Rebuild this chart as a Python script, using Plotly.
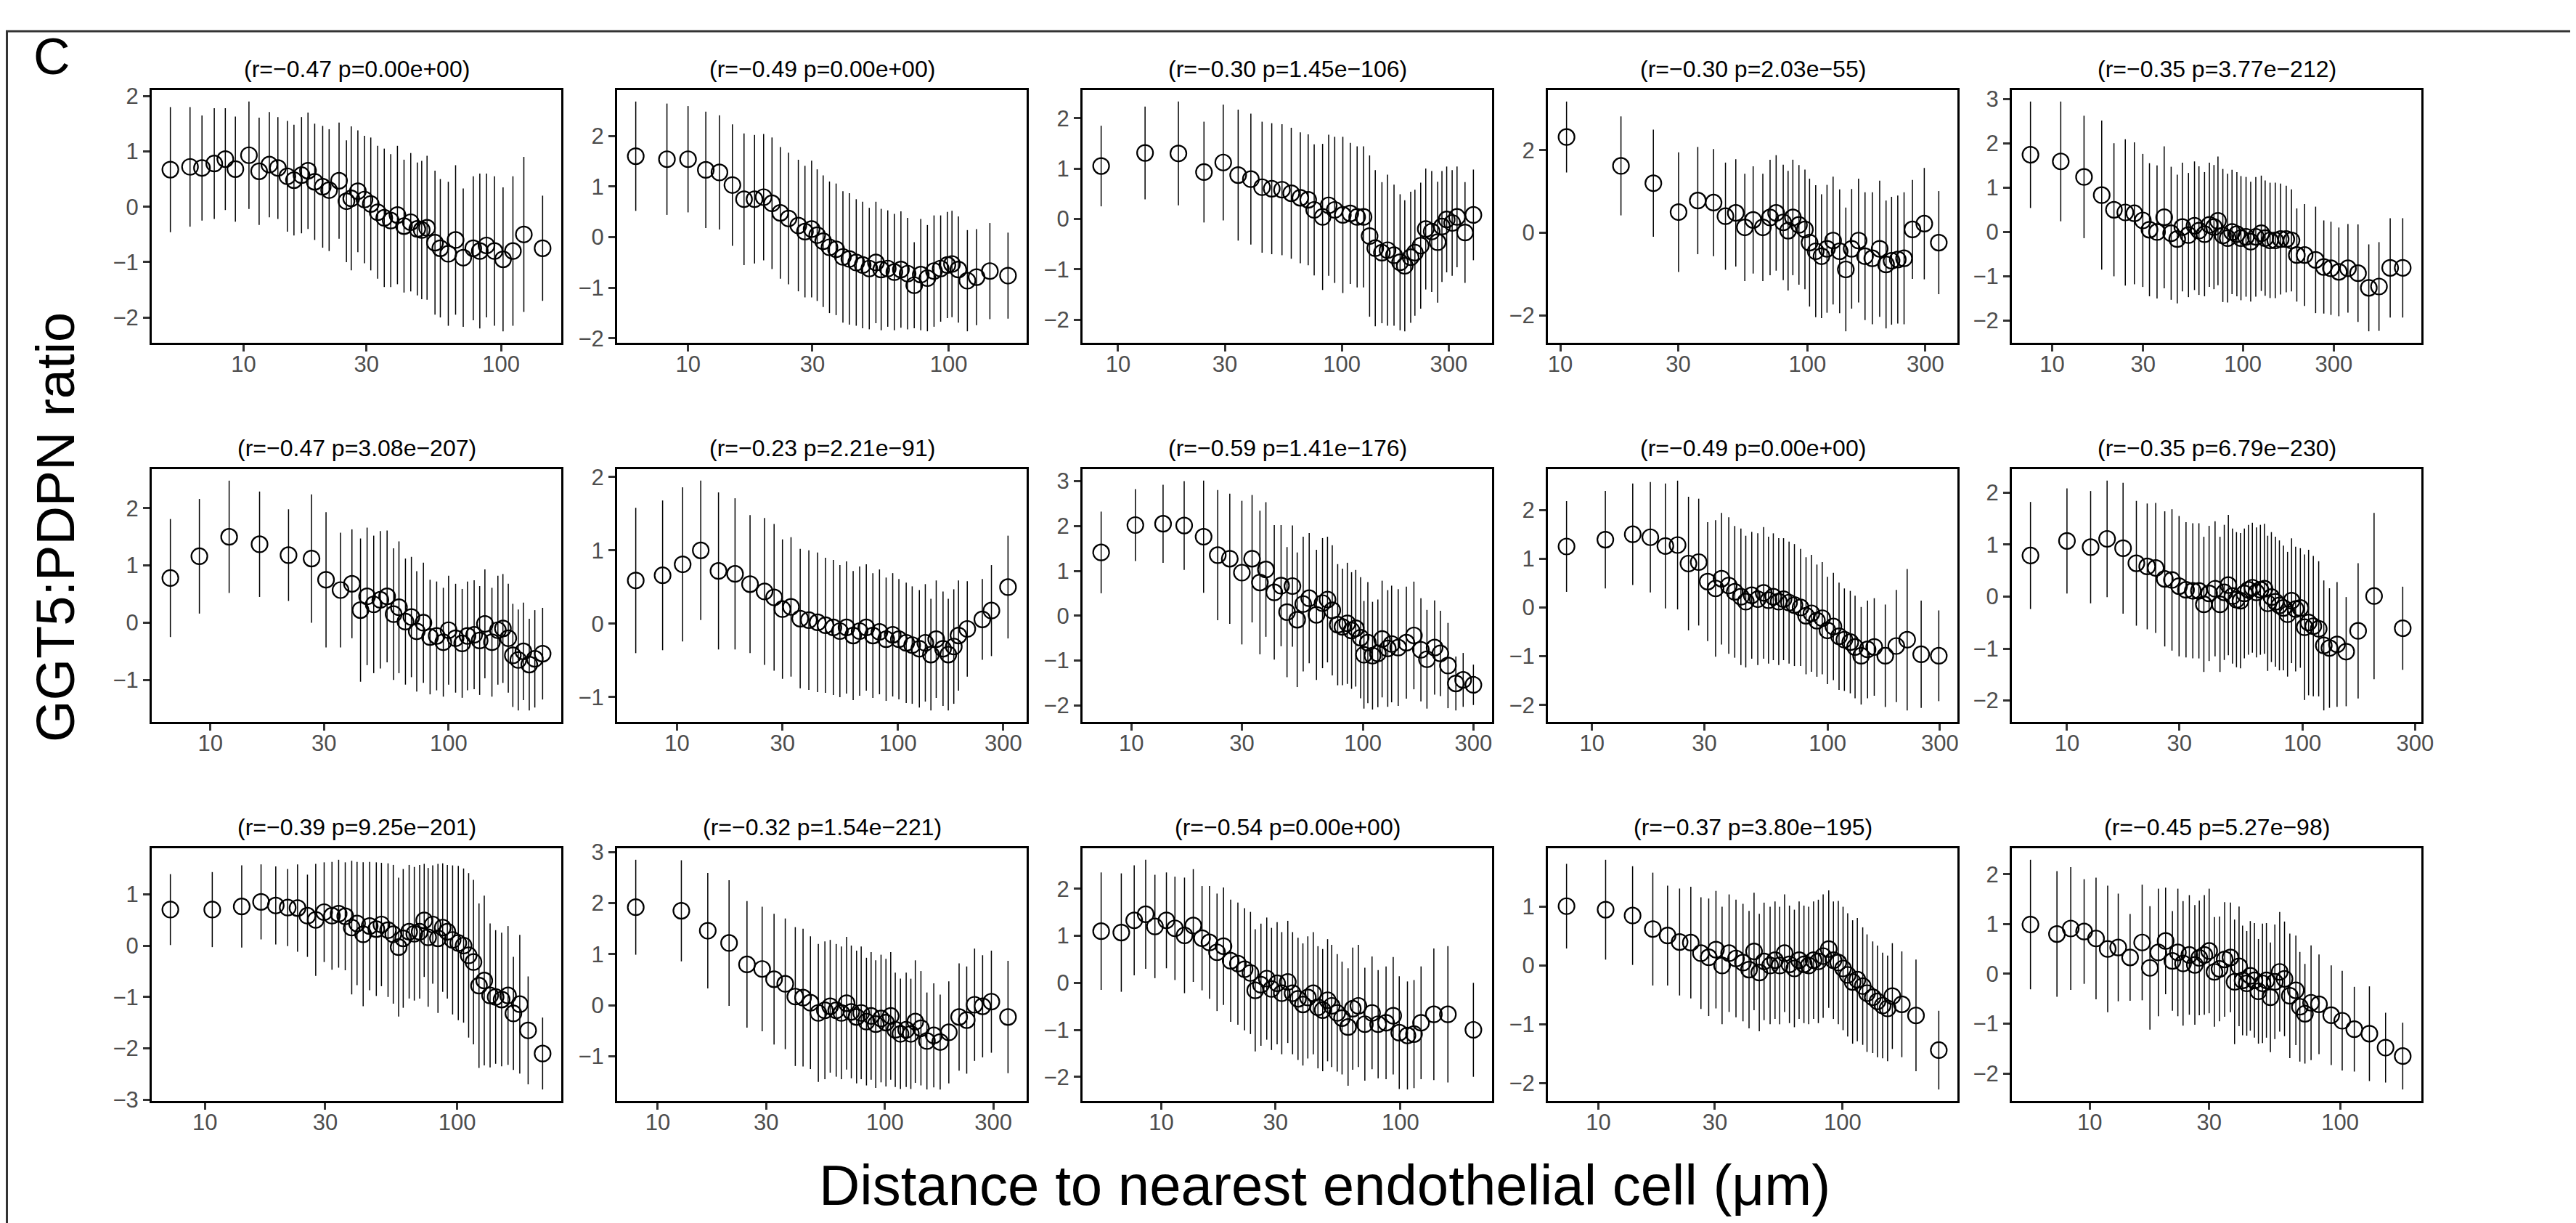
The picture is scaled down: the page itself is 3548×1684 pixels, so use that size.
import numpy as np
import plotly.graph_objects as go

# ---- data: distance (um), mean ratio, sd for each of the 15 panels ----
P1_X = [5.2, 6.2, 6.9, 7.7, 8.5, 9.3, 10.5, 11.5, 12.6, 13.6, 14.8, 15.7, 16.8, 17.8, 18.9, 20.3, 21.5, 23.5, 25.1, 26.2,
        27.8, 29.5, 31.2, 33.2, 35.2, 37.3, 39.6, 42.0, 44.6, 47.3, 49.2, 51.6, 55.4, 58.1, 62.4, 66.6, 71.3, 78.0, 82.7, 87.8,
        94.3, 101.8, 111.2, 122.6, 145]
P1_Y = [0.67, 0.72, 0.70, 0.78, 0.86, 0.68, 0.93, 0.64, 0.76, 0.70, 0.55, 0.48, 0.57, 0.65, 0.45, 0.36, 0.30, 0.47, 0.10, 0.15,
        0.28, 0.13, 0.05, -0.10, -0.20, -0.25, -0.15, -0.35, -0.28, -0.40, -0.42, -0.38, -0.65, -0.75, -0.85, -0.60, -0.92, -0.75, -0.80, -0.70,
        -0.80, -0.95, -0.80, -0.50, -0.75]
P1_SD = [1.13, 1.08, 0.95, 1.0, 0.92, 0.95, 0.97, 0.97, 0.95, 0.92, 1.0, 1.0, 1.05, 1.05, 1.05, 1.1, 1.1, 1.05, 1.1, 1.3,
         1.1, 1.15, 1.2, 1.2, 1.25, 1.2, 1.25, 1.2, 1.25, 1.2, 1.25, 1.3, 1.3, 1.25, 1.3, 1.35, 1.25, 1.3, 1.4, 1.3,
         1.35, 1.3, 1.35, 1.4, 0.95]

P2_X = [6.3, 8.3, 10, 11.7, 13.2, 14.8, 16.4, 18, 19.5, 21, 22.6, 24.3, 26.5, 28.1, 29.8, 31.3, 33, 34.9, 37, 39.3,
        41.6, 44.2, 46.8, 49.6, 52.6, 55.1, 58.4, 61.9, 65.6, 69.6, 73.8, 78.2, 82.9, 87.9, 93.2, 98.9, 103, 109, 118, 128,
        144, 169]
P2_Y = [1.60, 1.54, 1.54, 1.33, 1.28, 1.03, 0.75, 0.75, 0.79, 0.67, 0.48, 0.37, 0.23, 0.11, 0.16, 0.04, -0.08, -0.20, -0.24, -0.39,
        -0.43, -0.50, -0.55, -0.62, -0.50, -0.64, -0.62, -0.69, -0.64, -0.72, -0.95, -0.74, -0.81, -0.67, -0.62, -0.55, -0.53, -0.64, -0.86, -0.79,
        -0.67, -0.76]
P2_SD = [1.08, 1.1, 1.05, 1.15, 1.13, 1.2, 1.3, 1.27, 1.25, 1.3, 1.3, 1.3, 1.3, 1.3, 1.35, 1.3, 1.3, 1.3, 1.3, 1.3,
         1.3, 1.25, 1.25, 1.2, 1.2, 1.2, 1.15, 1.15, 1.15, 1.1, 0.85, 1.1, 1.05, 1.1, 1.05, 1.05, 1.05, 1.05, 1.0, 0.95,
         0.95, 0.85]

P3_X = [8.4, 13.2, 18.6, 24.2, 29.5, 34.4, 39.2, 44, 48.6, 54, 59.4, 65.2, 70.7, 75.2, 82, 87.3, 92.9, 101, 109, 117,
        125, 133, 141, 151, 160, 171, 182, 191, 203, 212, 225, 237, 252, 268, 280, 294, 311, 327, 355, 387]
P3_Y = [1.05, 1.31, 1.30, 0.93, 1.12, 0.87, 0.79, 0.63, 0.60, 0.58, 0.51, 0.42, 0.38, 0.18, 0.04, 0.27, 0.18, 0.08, 0.11, 0.04,
        0.04, -0.34, -0.58, -0.67, -0.62, -0.72, -0.86, -0.93, -0.76, -0.67, -0.53, -0.20, -0.25, -0.46, -0.15, -0.01, -0.08, 0.04, -0.27, 0.08]
P3_SD = [0.8, 0.92, 1.03, 1.0, 1.15, 1.3, 1.3, 1.3, 1.3, 1.3, 1.3, 1.3, 1.3, 1.3, 1.45, 1.4, 1.45, 1.55, 1.4, 1.4,
         1.4, 1.6, 1.55, 1.4, 1.5, 1.4, 1.35, 1.3, 1.3, 1.25, 1.25, 1.2, 1.2, 1.2, 1.1, 1.05, 1.05, 1.0, 1.0, 0.9]

P4_X = [10.6, 17.6, 23.8, 30.1, 36, 41.7, 46.6, 51.3, 55.8, 60.3, 66, 70.6, 74.7, 79.8, 83.5, 87.3, 92.4, 97.7, 102, 108,
        114, 120, 127, 135, 143, 151, 161, 171, 183, 196, 208, 219, 232, 246, 266, 297, 340]
P4_Y = [2.32, 1.62, 1.2, 0.5, 0.78, 0.73, 0.4, 0.48, 0.13, 0.31, 0.13, 0.37, 0.48, 0.25, 0.05, 0.37, 0.19, 0.08, -0.24, -0.45,
        -0.57, -0.39, -0.19, -0.45, -0.89, -0.39, -0.19, -0.57, -0.62, -0.39, -0.77, -0.68, -0.65, -0.62, 0.08, 0.22, -0.24]
P4_SD = [0.86, 1.2, 1.3, 1.45, 1.3, 1.3, 1.3, 1.3, 1.3, 1.3, 1.3, 1.4, 1.4, 1.4, 1.45, 1.4, 1.45, 1.45, 1.55, 1.6,
         1.5, 1.55, 1.55, 1.5, 1.5, 1.45, 1.5, 1.55, 1.6, 1.65, 1.55, 1.55, 1.55, 1.6, 1.2, 1.35, 1.25]

P5_X = [7.7, 11.1, 14.7, 18.2, 21.1, 24.2, 27, 29.9, 32.4, 35.5, 38.7, 42.1, 45.3, 48.2, 51.9, 55.8, 58.9, 63, 66.8, 70.6,
        74.1, 78.6, 83.3, 87.8, 93.1, 97.8, 104, 110, 117, 125, 131, 139, 148, 158, 169, 180, 192, 211, 241, 266,
        290, 319, 356, 402, 458, 518, 593, 690]
P5_Y = [1.74, 1.59, 1.24, 0.83, 0.5, 0.44, 0.42, 0.26, 0.05, 0.0, 0.33, -0.03, -0.16, 0.11, -0.07, 0.14, 0.03, -0.05, 0.16, 0.11,
        0.25, -0.08, -0.14, 0.0, -0.05, -0.14, -0.11, -0.22, -0.11, -0.03, -0.14, -0.19, -0.19, -0.16, -0.16, -0.19, -0.52, -0.52, -0.63, -0.79,
        -0.82, -0.9, -0.82, -0.93, -1.26, -1.23, -0.81, -0.81]
P5_SD = [1.2, 1.35, 1.38, 1.68, 1.5, 1.65, 1.6, 1.5, 1.5, 1.5, 1.6, 1.5, 1.45, 1.45, 1.4, 1.45, 1.45, 1.4, 1.4, 1.4,
         1.45, 1.5, 1.45, 1.4, 1.4, 1.4, 1.35, 1.35, 1.35, 1.3, 1.3, 1.3, 1.3, 1.25, 1.2, 1.15, 1.05, 1.15, 1.2, 1.05,
         1.05, 1.0, 1.0, 1.1, 0.98, 1.0, 1.12, 1.12]

P6_X = [6.8, 9.0, 12.0, 16.1, 21.3, 26.6, 30.6, 35.2, 39.3, 42.7, 45.5, 48.5, 51.7, 55.2, 58.8, 61.9, 65.9, 69.8, 73.5, 78.4,
        83.6, 89.1, 95, 100, 107, 114, 120, 128, 135, 142, 152, 161, 169, 178, 186, 196, 206, 218, 230, 248]
P6_Y = [0.78, 1.16, 1.5, 1.37, 1.18, 1.12, 0.75, 0.57, 0.68, 0.22, 0.46, 0.32, 0.40, 0.46, 0.15, 0.27, 0.02, 0.10, -0.15, 0.0,
        -0.25, -0.23, -0.34, -0.13, -0.27, -0.36, -0.23, -0.21, -0.31, -0.02, -0.34, -0.13, -0.10, -0.27, -0.57, -0.65, -0.50, -0.73, -0.63, -0.54]
P6_SD = [1.03, 1.0, 0.98, 0.92, 0.8, 1.12, 1.18, 1.0, 0.95, 1.25, 1.2, 1.2, 1.2, 1.15, 1.15, 1.15, 1.1, 1.05, 1.05, 1.05,
         1.0, 0.95, 0.95, 0.95, 0.95, 0.95, 0.95, 0.95, 0.95, 0.95, 0.95, 0.95, 0.95, 0.95, 0.9, 0.88, 0.85, 0.8, 0.85, 0.8]

P7_X = [6.5, 8.6, 10.6, 12.8, 15.4, 18.3, 21.4, 24.9, 27.5, 30.0, 32.8, 36.1, 39.5, 43.3, 47, 51, 54.6, 58.5, 62.7, 67.1,
        71.9, 77, 82.5, 88.4, 94.7, 101, 109, 116, 125, 133, 141, 149, 160, 169, 179, 188, 206, 241, 265, 315]
P7_Y = [0.59, 0.66, 0.81, 1.0, 0.72, 0.68, 0.54, 0.44, 0.36, 0.2, 0.23, 0.07, 0.05, 0.02, -0.02, -0.05, -0.1, -0.05, -0.16, -0.1,
        -0.05, -0.16, -0.11, -0.21, -0.15, -0.21, -0.26, -0.29, -0.34, -0.26, -0.42, -0.21, -0.34, -0.42, -0.31, -0.16, -0.07, 0.06, 0.18, 0.5]
P7_SD = [0.99, 1.02, 1.05, 0.95, 1.07, 1.03, 0.94, 1.0, 1.0, 0.95, 0.95, 0.95, 0.95, 0.95, 0.92, 0.92, 0.9, 0.9, 0.88, 0.88,
         0.86, 0.85, 0.85, 0.84, 0.84, 0.82, 0.82, 0.8, 0.8, 0.8, 0.76, 0.8, 0.78, 0.76, 0.78, 0.75, 0.65, 0.55, 0.62, 0.7]

P8_X = [7.4, 10.4, 13.7, 16.9, 20.5, 23.6, 26.6, 30.0, 33.2, 35.9, 38.1, 41.4, 44.3, 47, 49.6, 52, 55.2, 58.6, 63, 66.9,
        70.3, 73.7, 77.8, 81.6, 85.6, 89.3, 93.1, 97.7, 101, 105, 110, 116, 121, 128, 133, 142, 154, 166, 178, 189,
        204, 216, 233, 252, 271, 300]
P8_Y = [1.41, 2.02, 2.05, 2.01, 1.76, 1.35, 1.27, 0.96, 1.27, 0.74, 1.03, 0.52, 0.67, 0.08, 0.66, -0.09, 0.26, 0.39, 0.02, 0.28,
        0.36, 0.12, -0.2, -0.25, -0.17, -0.33, -0.28, -0.49, -0.87, -0.6, -0.89, -0.84, -0.52, -0.73, -0.63, -0.71, -0.6, -0.44, -0.76, -0.97,
        -0.71, -0.84, -1.11, -1.51, -1.43, -1.54]
P8_SD = [0.91, 0.8, 0.87, 0.99, 1.25, 1.45, 1.45, 1.6, 1.42, 1.6, 1.5, 1.5, 1.35, 1.45, 1.35, 1.5, 1.5, 1.45, 1.45, 1.45,
         1.4, 1.45, 1.35, 1.3, 1.35, 1.3, 1.3, 1.35, 1.2, 1.35, 1.2, 1.2, 1.3, 1.3, 1.3, 1.3, 1.25, 1.2, 1.15, 1.1,
         1.05, 0.95, 0.95, 0.6, 0.6, 0.45]

P9_X = [7.8, 11.4, 14.9, 17.7, 20.5, 23.1, 25.7, 28.4, 31, 33.5, 35.5, 38.1, 40.4, 42.9, 45, 47.7, 50.6, 53.6, 56.2, 58.9,
        62.1, 65.1, 68.7, 72.4, 76.9, 81.1, 85.5, 90.2, 95, 100, 106, 112, 118, 125, 131, 139, 148, 158, 176, 196,
        218, 250, 297]
P9_Y = [1.25, 1.39, 1.5, 1.44, 1.26, 1.28, 0.9, 0.93, 0.53, 0.39, 0.59, 0.45, 0.32, 0.22, 0.12, 0.25, 0.17, 0.3, 0.15, 0.22,
        0.12, 0.17, 0.1, 0.05, 0.0, -0.17, -0.12, -0.27, -0.22, -0.47, -0.39, -0.59, -0.66, -0.71, -0.81, -0.99, -0.86, -0.81, -0.99, -0.79,
        -0.66, -0.96, -0.99]
P9_SD = [0.93, 1.0, 1.04, 1.13, 1.28, 1.32, 1.37, 1.3, 1.22, 1.4, 1.35, 1.4, 1.35, 1.4, 1.35, 1.3, 1.35, 1.35, 1.3, 1.3,
         1.3, 1.25, 1.25, 1.25, 1.2, 1.2, 1.2, 1.15, 1.15, 1.1, 1.1, 1.1, 1.05, 1.05, 1.05, 1.0, 1.0, 1.0, 1.05, 1.15,
         1.45, 1.1, 0.93]

P10_X = [7.0, 10.0, 12.6, 14.8, 17.3, 19.7, 21.9, 23.8, 26, 27.9, 29.9, 32, 34.2, 36.3, 38.1, 40.1, 42.5, 44.6, 46.5, 48.4,
         50.4, 52.4, 54.5, 56.6, 58.9, 61.2, 63.7, 66.2, 68.9, 71.1, 73.7, 76.7, 79.7, 82.9, 86.3, 89.8, 93.4, 97.8, 102, 106,
         111, 117, 123, 130, 140, 153, 172, 201, 266]
P10_Y = [0.79, 1.07, 0.95, 1.11, 0.93, 0.64, 0.58, 0.55, 0.34, 0.32, 0.2, 0.13, 0.11, 0.11, -0.15, 0.06, 0.15, -0.15, 0.08, 0.22,
         0.01, -0.06, -0.08, 0.06, 0.13, 0.17, 0.08, 0.13, 0.15, -0.13, -0.01, -0.1, -0.17, -0.22, -0.34, -0.08, -0.24, -0.22, -0.59, -0.5,
         -0.57, -0.62, -0.94, -0.99, -0.92, -1.06, -0.66, 0.01, -0.61]
P10_SD = [1.03, 1.01, 1.08, 1.12, 1.26, 1.2, 1.21, 1.25, 1.3, 1.36, 1.35, 1.3, 1.3, 1.3, 1.3, 1.3, 1.3, 1.3, 1.3, 1.35,
          1.3, 1.3, 1.3, 1.25, 1.25, 1.25, 1.25, 1.25, 1.25, 1.3, 1.25, 1.25, 1.25, 1.2, 1.2, 1.2, 1.2, 1.15, 1.4, 1.4,
          1.35, 1.3, 1.25, 1.15, 1.2, 1.05, 1.3, 1.6, 0.8]

P11_X = [7.3, 10.7, 14.0, 16.7, 19.1, 21.3, 23.3, 25.5, 27.5, 29.7, 31.9, 33.9, 36, 38.2, 40.1, 42.4, 45, 47.8, 50.1, 53.2,
         55.8, 58.6, 61.1, 64.5, 67.6, 71, 74, 76.7, 80, 83.9, 87.6, 91.4, 95.9, 101, 106, 111, 116, 122, 128, 135,
         142, 150, 159, 167, 177, 191, 218]
P11_Y = [0.7, 0.7, 0.76, 0.85, 0.78, 0.74, 0.73, 0.58, 0.5, 0.65, 0.58, 0.62, 0.57, 0.35, 0.43, 0.22, 0.38, 0.32, 0.41, 0.3,
         0.22, -0.03, 0.14, 0.27, 0.23, 0.27, 0.49, 0.16, 0.41, 0.14, 0.35, 0.27, 0.11, 0.05, 0.0, -0.19, -0.32, -0.78, -0.68, -0.97,
         -1.0, -1.05, -0.97, -1.32, -1.14, -1.65, -2.1]
P11_SD = [0.69, 0.73, 0.8, 0.73, 0.76, 0.75, 0.85, 0.8, 1.09, 0.97, 1.05, 1.05, 1.05, 1.3, 1.2, 1.4, 1.25, 1.3, 1.2, 1.3,
          1.35, 1.35, 1.35, 1.3, 1.3, 1.3, 1.1, 1.35, 1.15, 1.45, 1.25, 1.3, 1.45, 1.5, 1.5, 1.6, 1.6, 1.6, 1.65, 1.4,
          1.3, 1.3, 1.35, 1.1, 1.35, 1.05, 0.7]

P12_X = [8.0, 12.7, 16.6, 20.6, 24.7, 28.8, 32.5, 36.4, 40.3, 43.6, 47, 50.9, 54.4, 57.4, 61, 64.3, 67.8, 71.1, 75, 78.6,
         82.9, 86.9, 91.1, 96.1, 101, 106, 111, 117, 124, 130, 136, 144, 153, 164, 175, 191, 212, 229, 248, 269,
         294, 348]
P12_Y = [1.92, 1.85, 1.46, 1.22, 0.8, 0.71, 0.51, 0.42, 0.17, 0.15, 0.05, -0.15, -0.1, -0.02, -0.1, -0.15, 0.04, -0.13, -0.23, -0.15,
         -0.32, -0.21, -0.37, -0.26, -0.34, -0.21, -0.48, -0.56, -0.48, -0.56, -0.32, -0.45, -0.7, -0.59, -0.72, -0.53, -0.23, -0.29, 0.01, -0.02,
         0.07, -0.23]
P12_SD = [0.93, 0.99, 1.13, 1.23, 1.24, 1.22, 1.28, 1.28, 1.36, 1.35, 1.3, 1.35, 1.35, 1.3, 1.3, 1.3, 1.3, 1.3, 1.3, 1.3,
          1.25, 1.25, 1.25, 1.25, 1.25, 1.25, 1.12, 1.08, 1.12, 1.08, 1.2, 1.12, 0.95, 1.02, 0.93, 1.0, 1.05, 1.05, 1.1, 1.0,
          1.0, 1.1]

P13_X = [5.6, 6.8, 7.7, 8.6, 9.4, 10.5, 11.4, 12.5, 13.6, 14.8, 15.9, 17.1, 18.2, 19.5, 20.9, 22.3, 23.6, 24.7, 26.1, 27.6,
         28.9, 30.5, 31.9, 33.8, 35.4, 37.3, 39.1, 41, 43.2, 45.2, 47.3, 49.6, 51.6, 54.4, 57, 60.4, 63.2, 66.7, 71, 76.1,
         80.7, 87.1, 93.3, 98.9, 107, 114, 122, 138, 158, 202]
P13_Y = [1.1, 1.07, 1.33, 1.46, 1.2, 1.33, 1.16, 1.01, 1.22, 0.95, 0.86, 0.65, 0.78, 0.47, 0.41, 0.29, 0.21, -0.16, -0.04, 0.09,
         -0.13, -0.01, -0.22, 0.02, -0.22, -0.34, -0.46, -0.31, -0.22, -0.52, -0.58, -0.37, -0.49, -0.64, -0.75, -0.94, -0.55, -0.49, -0.88, -0.64,
         -0.88, -0.85, -0.7, -1.06, -1.12, -1.09, -0.85, -0.67, -0.67, -1.0]
P13_SD = [1.25, 1.26, 1.17, 1.16, 1.1, 1.02, 1.1, 1.23, 1.2, 1.11, 1.2, 1.25, 1.25, 1.3, 1.3, 1.3, 1.3, 1.3, 1.3, 1.3,
          1.3, 1.3, 1.3, 1.3, 1.3, 1.3, 1.3, 1.3, 1.3, 1.3, 1.3, 1.3, 1.3, 1.25, 1.2, 1.25, 1.3, 1.3, 1.2, 1.2,
          1.15, 1.2, 1.25, 1.2, 1.15, 1.15, 1.2, 1.4, 1.45, 1.0]

P14_X = [7.4, 10.7, 13.8, 16.7, 19.2, 21.5, 23.9, 26.3, 28.3, 30.3, 32.1, 34.3, 36.6, 39.1, 41.4, 43.4, 45.6, 47.7, 50.5, 52.9,
         55.3, 57.9, 60.6, 63.5, 66.4, 69.5, 72.7, 76.1, 79.6, 83.3, 87.8, 91.8, 96.1, 100.5, 105, 110, 115, 121, 126, 133,
         139, 146, 153, 160, 175, 200, 248]
P14_Y = [1.01, 0.95, 0.85, 0.62, 0.51, 0.4, 0.39, 0.21, 0.14, 0.27, 0.0, 0.21, 0.12, 0.05, -0.07, 0.24, -0.12, 0.07, 0.0, 0.09,
         0.0, 0.21, 0.02, -0.05, 0.09, 0.02, 0.0, 0.09, 0.07, 0.16, 0.28, 0.09, 0.05, -0.05, -0.16, -0.28, -0.24, -0.35, -0.47, -0.54,
         -0.61, -0.68, -0.73, -0.52, -0.66, -0.85, -1.44]
P14_SD = [0.72, 0.85, 0.84, 0.96, 0.85, 0.91, 0.95, 0.95, 1.0, 1.0, 1.0, 1.0, 1.0, 1.0, 1.0, 1.0, 1.0, 1.0, 1.0, 1.0,
          1.0, 1.0, 1.0, 1.0, 1.0, 1.0, 1.0, 1.0, 1.05, 1.05, 1.0, 1.0, 1.05, 1.05, 1.05, 1.05, 1.05, 1.0, 1.0, 0.95,
          0.95, 0.9, 0.9, 0.9, 0.9, 0.95, 0.67]

P15_X = [5.8, 7.4, 8.4, 9.5, 10.6, 11.8, 13.0, 14.5, 16.2, 17.4, 18.8, 20.1, 21.4, 22.5, 23.6, 25, 26.3, 27.4, 28.7, 30,
         31.5, 33, 34.6, 36.5, 37.9, 39.5, 40.8, 42.4, 43.8, 45.5, 47.2, 49, 50.8, 52.7, 54.9, 57.4, 60, 63, 66.6, 69.1,
         72.4, 76.6, 82.4, 92.2, 102, 114, 131, 152, 178]
P15_Y = [0.99, 0.8, 0.91, 0.85, 0.71, 0.5, 0.53, 0.33, 0.63, 0.12, 0.43, 0.66, 0.26, 0.43, 0.21, 0.38, 0.18, 0.32, 0.38, 0.46,
         0.04, 0.1, 0.29, 0.33, -0.16, 0.15, -0.13, -0.19, -0.04, -0.13, -0.35, -0.19, -0.13, -0.47, -0.16, 0.04, -0.1, -0.44, -0.33, -0.66,
         -0.8, -0.58, -0.61, -0.83, -0.94, -1.11, -1.2, -1.48, -1.65]
P15_SD = [1.3, 1.26, 1.23, 1.05, 1.22, 1.27, 1.08, 0.87, 1.16, 1.24, 1.28, 1.07, 1.0, 1.28, 1.25, 1.2, 1.2, 1.15, 1.2, 1.25,
          1.1, 1.05, 1.15, 1.1, 1.25, 1.2, 1.1, 1.05, 1.1, 1.15, 1.05, 1.2, 1.15, 1.1, 1.15, 1.2, 1.15, 1.25, 1.1, 1.1,
          1.0, 1.15, 1.0, 1.0, 1.0, 0.85, 0.95, 0.7, 0.67]

TITLES = ["(r=\u22120.47 p=0.00e+00)", "(r=\u22120.49 p=0.00e+00)", "(r=\u22120.30 p=1.45e\u2212106)",
          "(r=\u22120.30 p=2.03e\u221255)", "(r=\u22120.35 p=3.77e\u2212212)",
          "(r=\u22120.47 p=3.08e\u2212207)", "(r=\u22120.23 p=2.21e\u221291)", "(r=\u22120.59 p=1.41e\u2212176)",
          "(r=\u22120.49 p=0.00e+00)", "(r=\u22120.35 p=6.79e\u2212230)",
          "(r=\u22120.39 p=9.25e\u2212201)", "(r=\u22120.32 p=1.54e\u2212221)", "(r=\u22120.54 p=0.00e+00)",
          "(r=\u22120.37 p=3.80e\u2212195)", "(r=\u22120.45 p=5.27e\u221298)"]
X_TICKS = [10, 30, 100, 300, 1000]
# y tick step per panel (panel 4 is labelled every 2 units)
Y_STEP = [1, 1, 1, 2, 1, 1, 1, 1, 1, 1, 1, 1, 1, 1, 1]

PANELS = [(P1_X, P1_Y, P1_SD), (P2_X, P2_Y, P2_SD), (P3_X, P3_Y, P3_SD), (P4_X, P4_Y, P4_SD), (P5_X, P5_Y, P5_SD),
          (P6_X, P6_Y, P6_SD), (P7_X, P7_Y, P7_SD), (P8_X, P8_Y, P8_SD), (P9_X, P9_Y, P9_SD), (P10_X, P10_Y, P10_SD),
          (P11_X, P11_Y, P11_SD), (P12_X, P12_Y, P12_SD), (P13_X, P13_Y, P13_SD), (P14_X, P14_Y, P14_SD),
          (P15_X, P15_Y, P15_SD)]

# ---- layout in pixels ----
W, H = 3548, 1684
COL_LEFT = [201, 842, 1483, 2124, 2763]
ROW_TOP = [116, 638, 1160]
PW, PH = 564, 348
FONT = "Liberation Sans, Arial, sans-serif"


def px(x):
    return x / W


def py(y):
    return 1 - y / H


fig = go.Figure()
annotations = []

for i, (xs, ys, sds) in enumerate(PANELS):
    r, c = divmod(i, 5)
    n = min(len(xs), len(ys), len(sds))
    xs, ys, sds = np.array(xs[:n]), np.array(ys[:n]), np.array(sds[:n])
    xa = "x" if i == 0 else f"x{i + 1}"
    ya = "y" if i == 0 else f"y{i + 1}"

    fig.add_trace(go.Scatter(
        x=xs, y=ys, mode="markers", xaxis=xa, yaxis=ya,
        error_y=dict(type="data", array=sds, visible=True, width=0, thickness=1.5, color="black"),
        marker=dict(symbol="circle-open", size=22, color="black", line=dict(width=2.2, color="black")),
        showlegend=False, hoverinfo="skip"))

    # ggplot-like 5% expansion of the data range
    lx = np.log10(xs)
    xpad = 0.05 * (lx.max() - lx.min())
    lo, hi = (ys - sds).min(), (ys + sds).max()
    ypad = 0.05 * (hi - lo)

    x0, y0 = COL_LEFT[c], ROW_TOP[r]
    common = dict(showline=True, mirror=True, linewidth=3, linecolor="black", showgrid=False, zeroline=False,
                  ticks="outside", ticklen=9, tickwidth=2.5, tickcolor="#333333", automargin=False,
                  tickfont=dict(family=FONT, size=31, color="#4D4D4D"))
    xname = "xaxis" if i == 0 else f"xaxis{i + 1}"
    yname = "yaxis" if i == 0 else f"yaxis{i + 1}"
    fig.update_layout(**{
        xname: dict(type="log", range=[lx.min() - xpad, lx.max() + xpad],
                    domain=[px(x0), px(x0 + PW)], anchor=ya, ticklabelstandoff=-9,
                    tickmode="array", tickvals=X_TICKS, ticktext=[str(t) for t in X_TICKS], **common),
        yname: dict(range=[lo - ypad, hi + ypad], domain=[py(y0 + PH), py(y0)], anchor=xa,
                    tickmode="linear", tick0=0, dtick=Y_STEP[i], **common),
    })

    annotations.append(dict(text=TITLES[i], x=px(x0 + PW / 2), y=py(y0 - 29), xref="paper", yref="paper",
                            xanchor="center", yanchor="middle", showarrow=False,
                            font=dict(family=FONT, size=32, color="black")))

annotations.append(dict(text="GGT5:PDPN ratio", x=px(68), y=py(718), xref="paper", yref="paper",
                        textangle=-90, xanchor="center", yanchor="middle", showarrow=False,
                        font=dict(family=FONT, size=74, color="black")))
annotations.append(dict(text="Distance to nearest endothelial cell (\u03bcm)", x=px(1816), y=py(1624),
                        xref="paper", yref="paper", xanchor="center", yanchor="middle", showarrow=False,
                        font=dict(family=FONT, size=78, color="black")))
annotations.append(dict(text="C", x=px(63), y=py(70), xref="paper", yref="paper",
                        xanchor="center", yanchor="middle", showarrow=False,
                        font=dict(family=FONT, size=70, color="black")))

# outer frame (top, left, right)
frame = dict(type="line", xref="paper", yref="paper", line=dict(color="#333333", width=3))
shapes = [
    dict(frame, x0=0, x1=px(3545), y0=py(35), y1=py(35)),
    dict(frame, x0=px(1.5), x1=px(1.5), y0=py(35), y1=0),
    dict(frame, x0=px(3545), x1=px(3545), y0=py(35), y1=0),
]

fig.update_layout(width=W, height=H, margin=dict(l=0, r=0, t=0, b=0), template="none",
                  paper_bgcolor="white", plot_bgcolor="white", annotations=annotations, shapes=shapes,
                  font=dict(family=FONT))

fig.write_html("out.html")
